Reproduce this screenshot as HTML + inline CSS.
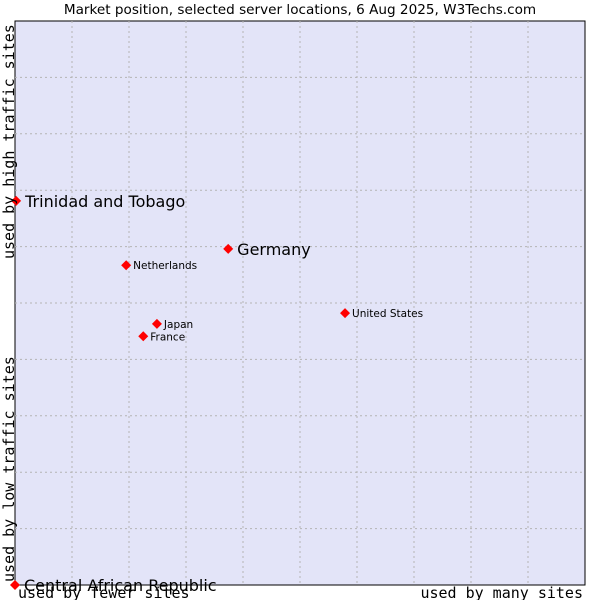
<!DOCTYPE html>
<html><head><meta charset="utf-8"><style>
html,body{margin:0;padding:0;background:#fff;}
svg{display:block;}
</style></head><body>
<svg id="chart" width="600" height="600" xmlns="http://www.w3.org/2000/svg">
<text x="300" y="14" text-anchor="middle" font-family="DejaVu Sans, sans-serif" font-size="13.6">Market position, selected server locations, 6 Aug 2025, W3Techs.com</text>
<rect x="15" y="21" width="570" height="564" fill="#e3e4f8" stroke="#000" stroke-width="1"/>
<g id="grid"></g>
<g id="points"></g>
<text transform="translate(14,259) rotate(-90)" font-family="DejaVu Sans Mono, monospace" font-size="15">used by high traffic sites</text>
<text transform="translate(14,582) rotate(-90)" font-family="DejaVu Sans Mono, monospace" font-size="15">used by low traffic sites</text>
<text x="18" y="598" font-family="DejaVu Sans Mono, monospace" font-size="15">used by fewer sites</text>
<text x="583" y="598" text-anchor="end" font-family="DejaVu Sans Mono, monospace" font-size="15">used by many sites</text>
</svg>
<script>
const countries = ["Trinidad and Tobago","Germany","Netherlands","United States","Japan","France","Central African Republic"];
const xValues = [0.2, 37.4, 19.5, 57.9, 24.9, 22.5, 0];
const yValues = [68.1, 59.6, 56.7, 48.2, 46.3, 44.1, 0];
const bigLabel = [true, true, false, false, false, false, true];

const NS = "http://www.w3.org/2000/svg";
const L=15, R=585, T=21, B=585;
const xs = v => L + v/100*(R-L);
const ys = v => B - v/100*(B-T);
const grid = document.getElementById('grid');
for (let i=1;i<10;i++){
  const v=i*10;
  const lx=document.createElementNS(NS,'line');
  lx.setAttribute('x1',xs(v));lx.setAttribute('x2',xs(v));lx.setAttribute('y1',T);lx.setAttribute('y2',B);
  lx.setAttribute('stroke','#b4b4b4');lx.setAttribute('stroke-dasharray','2,3');
  
  
  grid.appendChild(lx);
  const ly=document.createElementNS(NS,'line');
  ly.setAttribute('y1',ys(v));ly.setAttribute('y2',ys(v));ly.setAttribute('x1',L);ly.setAttribute('x2',R);
  ly.setAttribute('stroke','#b4b4b4');ly.setAttribute('stroke-dasharray','2,3');
  
  
  grid.appendChild(ly);
}
const pts=document.getElementById('points');
countries.forEach((c,i)=>{
  const px=xs(xValues[i]), py=ys(yValues[i]);
  const d=document.createElementNS(NS,'polygon');
  d.setAttribute('points',`${px},${py-5} ${px+5},${py} ${px},${py+5} ${px-5},${py}`);
  d.setAttribute('fill','#ff0000');
  
  
  pts.appendChild(d);
  const t=document.createElementNS(NS,'text');
  t.setAttribute('x',px+(bigLabel[i]?9:7));
  t.setAttribute('y',py+(bigLabel[i]?6:4));
  t.setAttribute('font-family','DejaVu Sans, sans-serif');
  t.setAttribute('font-size',bigLabel[i]?'16':'10.5');
  t.textContent=c;
  
  
  pts.appendChild(t);
});
</script>
</body></html>
